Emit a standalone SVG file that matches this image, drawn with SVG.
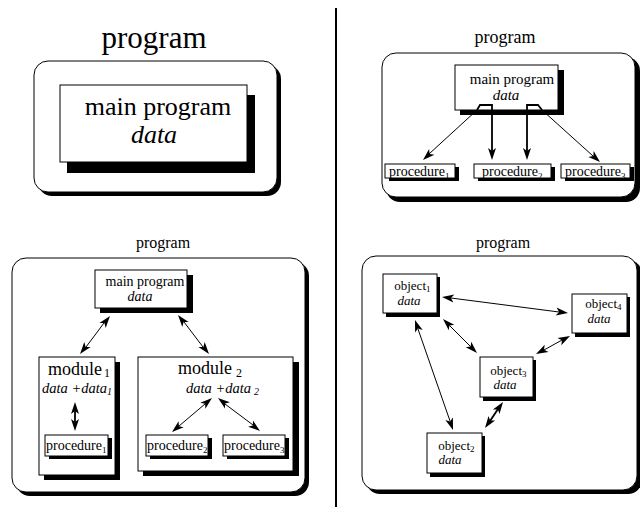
<svg xmlns="http://www.w3.org/2000/svg" width="640" height="507" viewBox="0 0 640 507">
<rect width="640" height="507" fill="#fff"/>
<line x1="336" y1="8" x2="336" y2="507" stroke="#000" stroke-width="2"/>
<g id="p1-program">
<text x="154" y="48" font-size="31" text-anchor="middle" font-family="Liberation Serif">program</text>
<rect x="38" y="65" width="243" height="131" rx="14" fill="#000"/>
<rect x="34" y="61" width="243" height="131" rx="14" fill="#fff" stroke="#000"/>
</g>
<g id="p1-main">
<rect x="67" y="95" width="188" height="78" fill="#000"/>
<rect x="60" y="85" width="187" height="77" fill="#fff" stroke="#000"/>
<text x="158" y="115" font-size="26" text-anchor="middle" font-family="Liberation Serif">main program</text>
<text x="154" y="143" font-size="26" text-anchor="middle" font-family="Liberation Serif" font-style="italic">data</text>
</g>
<g id="p2-program">
<text x="505" y="43" font-size="18" text-anchor="middle" font-family="Liberation Serif">program</text>
<rect x="386" y="57" width="254" height="145" rx="14" fill="#000"/>
<rect x="382" y="53" width="253" height="144" rx="14" fill="#fff" stroke="#000"/>
</g>
<g id="p2-main">
<rect x="460" y="70" width="104" height="45" fill="#000"/>
<rect x="455" y="65" width="103" height="45" fill="#fff" stroke="#000"/>
<text x="512" y="84" font-size="15" text-anchor="middle" font-family="Liberation Serif">main program</text>
<text x="506" y="100" font-size="15" text-anchor="middle" font-family="Liberation Serif" font-style="italic">data</text>
</g>
<g id="p2-proc1">
<rect x="389" y="167" width="70" height="14" fill="#000"/>
<rect x="385" y="164" width="70" height="14" fill="#fff" stroke="#000"/>
<text x="445" y="176" font-size="14" text-anchor="end" font-family="Liberation Serif">procedure</text>
<text x="445" y="179" font-size="9" font-family="Liberation Serif">1</text>
</g>
<g id="p2-proc2">
<rect x="478" y="167" width="77" height="14" fill="#000"/>
<rect x="474" y="164" width="77" height="14" fill="#fff" stroke="#000"/>
<text x="538" y="176" font-size="14" text-anchor="end" font-family="Liberation Serif">procedure</text>
<text x="538" y="179" font-size="9" font-family="Liberation Serif">2</text>
</g>
<g id="p2-proc3">
<rect x="565" y="167" width="69" height="14" fill="#000"/>
<rect x="561" y="164" width="69" height="14" fill="#fff" stroke="#000"/>
<text x="621" y="176" font-size="14" text-anchor="end" font-family="Liberation Serif">procedure</text>
<text x="621" y="179" font-size="9" font-family="Liberation Serif">3</text>
</g>
<g id="p3-program">
<text x="163" y="248" font-size="16" text-anchor="middle" font-family="Liberation Serif">program</text>
<rect x="16" y="262" width="293" height="234" rx="14" fill="#000"/>
<rect x="12" y="258" width="293" height="234" rx="14" fill="#fff" stroke="#000"/>
</g>
<g id="p3-main">
<rect x="100" y="275" width="93" height="38" fill="#000"/>
<rect x="95" y="270" width="92" height="38" fill="#fff" stroke="#000"/>
<text x="145" y="286" font-size="14" text-anchor="middle" font-family="Liberation Serif">main program</text>
<text x="140" y="301" font-size="14" text-anchor="middle" font-family="Liberation Serif" font-style="italic">data</text>
</g>
<g id="p3-module1">
<rect x="44" y="362" width="76" height="118" fill="#000"/>
<rect x="39" y="357" width="76" height="118" fill="#fff" stroke="#000"/>
<text x="102" y="375" font-size="18" text-anchor="end" font-family="Liberation Serif">module</text>
<text x="104" y="377" font-size="12" font-family="Liberation Serif">1</text>
<text x="107" y="393" font-size="14.5" text-anchor="end" font-family="Liberation Serif" font-style="italic">data +data</text>
<text x="107" y="395" font-size="10" font-family="Liberation Serif" font-style="italic">1</text>
</g>
<g id="p3-proc1">
<rect x="49" y="438" width="63" height="21" fill="#000"/>
<rect x="45" y="435" width="63" height="21" fill="#fff" stroke="#000"/>
<text x="102" y="450" font-size="14" text-anchor="end" font-family="Liberation Serif">procedure</text>
<text x="102" y="453" font-size="9" font-family="Liberation Serif">1</text>
</g>
<g id="p3-module2">
<rect x="143" y="362" width="156" height="114" fill="#000"/>
<rect x="138" y="357" width="155" height="114" fill="#fff" stroke="#000"/>
<text x="232" y="374" font-size="18" text-anchor="end" font-family="Liberation Serif">module</text>
<text x="236" y="377" font-size="12" font-family="Liberation Serif">2</text>
<text x="251" y="393" font-size="14.5" text-anchor="end" font-family="Liberation Serif" font-style="italic">data +data</text>
<text x="254" y="395" font-size="10" font-family="Liberation Serif" font-style="italic">2</text>
</g>
<g id="p3-proc2">
<rect x="150" y="438" width="62" height="21" fill="#000"/>
<rect x="146" y="435" width="62" height="21" fill="#fff" stroke="#000"/>
<text x="203" y="450" font-size="14" text-anchor="end" font-family="Liberation Serif">procedure</text>
<text x="203" y="453" font-size="9" font-family="Liberation Serif">2</text>
</g>
<g id="p3-proc3">
<rect x="227" y="438" width="62" height="21" fill="#000"/>
<rect x="223" y="435" width="62" height="21" fill="#fff" stroke="#000"/>
<text x="280" y="450" font-size="14" text-anchor="end" font-family="Liberation Serif">procedure</text>
<text x="280" y="453" font-size="9" font-family="Liberation Serif">3</text>
</g>
<g id="p4-program">
<text x="503" y="248" font-size="16" text-anchor="middle" font-family="Liberation Serif">program</text>
<rect x="366" y="260" width="276" height="234" rx="14" fill="#000"/>
<rect x="362" y="256" width="275" height="234" rx="14" fill="#fff" stroke="#000"/>
</g>
<g id="p4-object1">
<rect x="386" y="277" width="54" height="40" fill="#000"/>
<rect x="383" y="274" width="54" height="39" fill="#fff" stroke="#000"/>
<text x="426" y="290" font-size="13" text-anchor="end" font-family="Liberation Serif">object</text>
<text x="426" y="292" font-size="9" font-family="Liberation Serif">1</text>
<text x="409" y="305" font-size="13" text-anchor="middle" font-family="Liberation Serif" font-style="italic">data</text>
</g>
<g id="p4-object4">
<rect x="575" y="297" width="55" height="40" fill="#000"/>
<rect x="572" y="294" width="55" height="39" fill="#fff" stroke="#000"/>
<text x="617" y="308" font-size="13" text-anchor="end" font-family="Liberation Serif">object</text>
<text x="617" y="310" font-size="9" font-family="Liberation Serif">4</text>
<text x="599" y="323" font-size="13" text-anchor="middle" font-family="Liberation Serif" font-style="italic">data</text>
</g>
<g id="p4-object3">
<rect x="483" y="360" width="53" height="41" fill="#000"/>
<rect x="480" y="357" width="53" height="40" fill="#fff" stroke="#000"/>
<text x="522" y="375" font-size="13" text-anchor="end" font-family="Liberation Serif">object</text>
<text x="522" y="377" font-size="9" font-family="Liberation Serif">3</text>
<text x="505" y="389" font-size="13" text-anchor="middle" font-family="Liberation Serif" font-style="italic">data</text>
</g>
<g id="p4-object2">
<rect x="430" y="436" width="55" height="41" fill="#000"/>
<rect x="427" y="433" width="55" height="40" fill="#fff" stroke="#000"/>
<text x="470" y="450" font-size="13" text-anchor="end" font-family="Liberation Serif">object</text>
<text x="470" y="452" font-size="9" font-family="Liberation Serif">2</text>
<text x="450" y="464" font-size="13" text-anchor="middle" font-family="Liberation Serif" font-style="italic">data</text>
</g>
<g id="connectors">
<g stroke="#000" fill="none">
<polyline points="477,110 480,105 492,105 492,152" stroke-width="1.8"/>
<polyline points="542,110 538,105 527,105 527,152" stroke-width="1.8"/>
<line x1="477" y1="110" x2="429" y2="154"/>
<line x1="542" y1="110" x2="593" y2="156"/>
<line x1="104" y1="323" x2="86" y2="347"/>
<line x1="184" y1="322" x2="203" y2="347"/>
<line x1="75" y1="411" x2="75" y2="422" stroke-width="1.8"/>
<line x1="205" y1="404" x2="179" y2="426"/>
<line x1="225" y1="404" x2="253" y2="425"/>
<line x1="451" y1="298" x2="559" y2="312"/>
<line x1="449" y1="325" x2="471" y2="347"/>
<line x1="418" y1="329" x2="450" y2="421"/>
<line x1="562" y1="340" x2="544" y2="350"/>
<line x1="498" y1="409" x2="490" y2="421" stroke-width="1.8"/>
</g>
<g fill="#000">
<polygon points="492,160 496,148 492,151 488,148"/>
<polygon points="527,160 531,148 527,151 523,148"/>
<polygon points="423,160 434.5,154.8 429.6,153.9 429.1,148.9"/>
<polygon points="600,162 593.7,151 593.3,156 588.4,157"/>
<polygon points="80,354 90.6,347.1 85.6,346.9 84.3,342.1"/>
<polygon points="110,316 99.4,322.9 104.4,323.1 105.7,327.9"/>
<polygon points="209,354 204.7,342.1 203.4,347 198.4,347.1"/>
<polygon points="178,315 188.6,321.9 183.6,322.05 182.3,326.9"/>
<polygon points="75,431 79,419 75,422 71,419"/>
<polygon points="75,402 79,414 75,411 71,414"/>
<polygon points="172,432 183.7,427.3 178.9,426.2 178.6,421.2"/>
<polygon points="212,398 205.4,408.8 205.1,403.8 200.3,402.7"/>
<polygon points="260,431 253,420.4 252.9,425.4 248.1,426.7"/>
<polygon points="218,398 229.9,402.3 225.1,403.6 225,408.6"/>
<polygon points="568,313 556.6,307.5 559.1,311.9 555.6,315.5"/>
<polygon points="442,297 454.4,294.5 450.9,298.1 453.4,302.5"/>
<polygon points="477,353 471.3,341.7 470.6,346.6 465.7,347.3"/>
<polygon points="443,319 454.3,324.7 449.4,325.4 448.7,330.3"/>
<polygon points="453,430 452.9,417.4 450.1,421.5 445.3,420"/>
<polygon points="415,320 422.7,330 417.9,328.5 415.1,332.6"/>
<polygon points="536,354 548.5,351.9 544,349.8 544.7,344.8"/>
<polygon points="570,336 561.3,345.2 562,340.2 557.5,338.1"/>
<polygon points="485,428 495.1,420.4 490.1,420.6 488.5,415.9"/>
<polygon points="503,402 499.5,414.1 497.9,409.4 492.9,409.6"/>
</g>
</g>
</svg>
